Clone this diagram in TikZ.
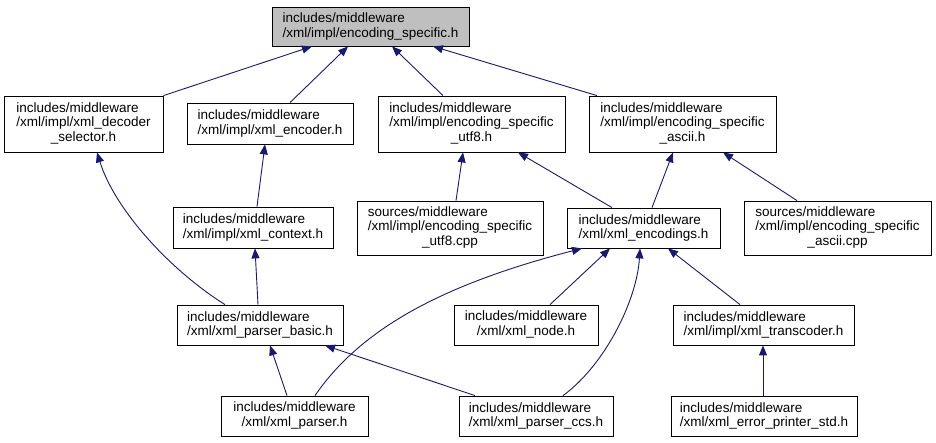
\documentclass[tikz,border=0pt]{standalone}
\usepackage{fontspec}
\setmainfont{Liberation Sans}
\usetikzlibrary{arrows.meta}
\definecolor{edgecol}{HTML}{191970}
\definecolor{topfill}{HTML}{BFBFBF}
\begin{document}
\begin{tikzpicture}[x=1pt,y=-1pt,
  box/.style={draw=black, line width=0.8pt, fill=white, align=left, inner sep=0pt,
    font=\fontsize{13.5}{14.7}\selectfont},
  dep/.style={draw=edgecol, line width=0.9pt, -{Triangle[length=10pt,width=8pt]}}]
\useasboundingbox (0,0) rectangle (936,443);
% nodes
\node[box, fill=topfill, minimum width=197pt, minimum height=39pt] (top) at (370.5,26.5)
  {includes/middleware\\/xml/impl/encoding\_specific.h};
\node[box, minimum width=159pt, minimum height=56pt] (decoder) at (83.5,124)
  {\begin{tabular}{@{}l@{}}includes/middleware\\/xml/impl/xml\_decoder\\\multicolumn{1}{@{}c@{}}{\_selector.h}\end{tabular}};
\node[box, minimum width=166pt, minimum height=41pt] (encoder) at (270,123.5)
  {includes/middleware\\/xml/impl/xml\_encoder.h};
\node[box, minimum width=187pt, minimum height=56pt] (utf8h) at (471.5,124)
  {\begin{tabular}{@{}l@{}}includes/middleware\\/xml/impl/encoding\_specific\\\multicolumn{1}{@{}c@{}}{\_utf8.h}\end{tabular}};
\node[box, minimum width=187pt, minimum height=56pt] (asciih) at (682.5,124)
  {\begin{tabular}{@{}l@{}}includes/middleware\\/xml/impl/encoding\_specific\\\multicolumn{1}{@{}c@{}}{\_ascii.h}\end{tabular}};
\node[box, minimum width=160pt, minimum height=41pt] (context) at (253,227.5)
  {includes/middleware\\/xml/impl/xml\_context.h};
\node[box, minimum width=186pt, minimum height=54pt] (utf8cpp) at (450,228)
  {\begin{tabular}{@{}l@{}}sources/middleware\\/xml/impl/encoding\_specific\\\multicolumn{1}{@{}c@{}}{\_utf8.cpp}\end{tabular}};
\node[box, minimum width=153pt, minimum height=40pt] (encodings) at (643.5,228)
  {includes/middleware\\/xml/xml\_encodings.h};
\node[box, minimum width=187pt, minimum height=54pt] (asciicpp) at (837.5,228)
  {\begin{tabular}{@{}l@{}}sources/middleware\\/xml/impl/encoding\_specific\\\multicolumn{1}{@{}c@{}}{\_ascii.cpp}\end{tabular}};
\node[box, minimum width=166pt, minimum height=40pt] (pbasic) at (260,325)
  {includes/middleware\\/xml/xml\_parser\_basic.h};
\node[box, minimum width=144pt, minimum height=40pt] (xnode) at (526,325)
  {\begin{tabular}{@{}l@{}}includes/middleware\\\multicolumn{1}{@{}c@{}}{/xml/xml\_node.h}\end{tabular}};
\node[box, minimum width=181pt, minimum height=40pt] (transcoder) at (763.5,325)
  {includes/middleware\\/xml/impl/xml\_transcoder.h};
\node[box, minimum width=147pt, minimum height=40pt] (parser) at (294.5,416)
  {\begin{tabular}{@{}l@{}}includes/middleware\\\multicolumn{1}{@{}c@{}}{/xml/xml\_parser.h}\end{tabular}};
\node[box, minimum width=154pt, minimum height=40pt] (ccs) at (536,416)
  {includes/middleware\\/xml/xml\_parser\_ccs.h};
\node[box, minimum width=186pt, minimum height=40pt] (errp) at (764,416)
  {includes/middleware\\/xml/xml\_error\_printer\_std.h};
% edges
\draw[dep] (decoder.north east) -- ([xshift=-58.5]top.south);
\draw[dep] ([xshift=20]encoder.north) -- ([xshift=-22.5]top.south);
\draw[dep] ([xshift=-28.5]utf8h.north) -- ([xshift=21.5]top.south);
\draw[dep] ([xshift=-85.5]asciih.north) -- ([xshift=62.5]top.south);
\draw[dep] ([xshift=4]context.north) -- ([xshift=-5]encoder.south);
\draw[dep] ([xshift=-35]pbasic.north) .. controls (170,270) and (115,210) .. ([xshift=13.5]decoder.south);
\draw[dep] ([xshift=-2]pbasic.north) -- ([xshift=2]context.south);
\draw[dep] ([xshift=6]utf8cpp.north) -- ([xshift=-8.5]utf8h.south);
\draw[dep] ([xshift=-31.5]encodings.north) -- ([xshift=46.5]utf8h.south);
\draw[dep] ([xshift=8.5]encodings.north) -- ([xshift=-9.5]asciih.south);
\draw[dep] ([xshift=-40.5]asciicpp.north) -- ([xshift=40.5]asciih.south);
\draw[dep] ([xshift=24]xnode.north) -- ([xshift=-33.5]encodings.south);
\draw[dep] ([xshift=-23.5]transcoder.north) -- ([xshift=24.5]encodings.south);
\draw[dep] ([xshift=-1]errp.north) -- ([xshift=-0.5]transcoder.south);
\draw[dep] ([xshift=-7.5]parser.north) -- ([xshift=10]pbasic.south);
\draw[dep] ([xshift=-61]ccs.north) -- ([xshift=65]pbasic.south);
\draw[dep] ([xshift=20.5]parser.north) .. controls (360,330) and (440,285) .. ([xshift=-61.5]encodings.south);
\draw[dep] ([xshift=27]ccs.north) .. controls (605,365) and (637,300) .. ([xshift=-3.5]encodings.south);
\end{tikzpicture}
\end{document}
